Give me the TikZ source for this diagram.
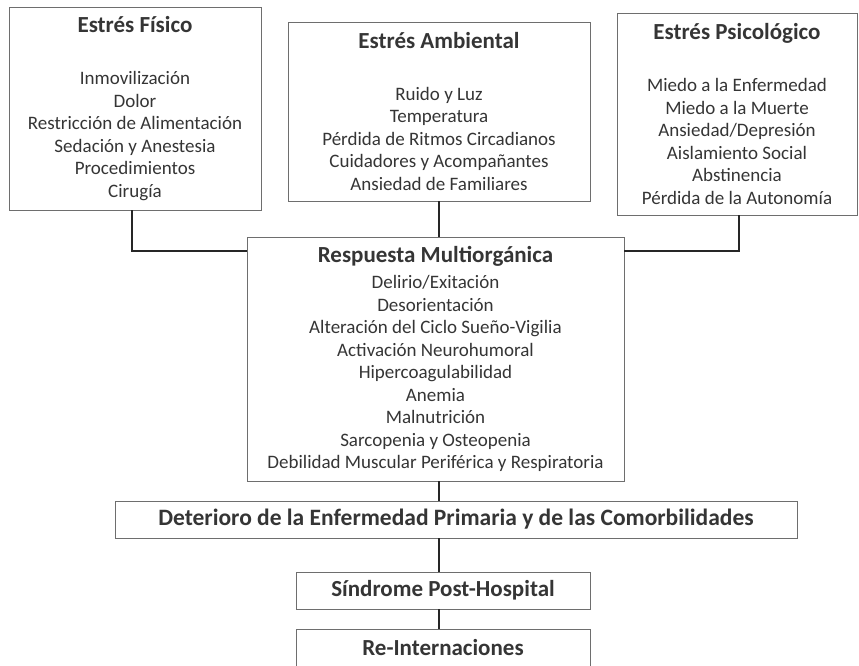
\documentclass[tikz,border=0pt]{standalone}
\usepackage{fontspec}
\setmainfont{Carlito}
\definecolor{boxgray}{HTML}{6E6E6E}
\definecolor{txt}{HTML}{353535}
\definecolor{linkc}{HTML}{262626}
\newcommand{\ttlfont}{\fontsize{23}{22.5}\selectfont\bfseries}
\begin{document}
\begin{tikzpicture}[x=1pt,y=-1pt,
  box/.style={draw=boxgray, line width=0.9pt, align=center, inner sep=0pt, text=txt,
    font=\fontsize{19}{22.5}\selectfont},
  link/.style={draw=linkc, line width=2.6pt}]
\useasboundingbox (0,0) rectangle (859,666);
\fill[white] (0,0) rectangle (859,666);

\node[box, minimum width=252pt, minimum height=203pt] (fis) at (135,108.5)
 {{\ttlfont Estrés Físico}\\[29.5pt]
  Inmovilización\\ Dolor\\ Restricción de Alimentación\\ Sedación y Anestesia\\ Procedimientos\\ Cirugía};

\node[box, minimum width=302pt, minimum height=179pt] (amb) at (439,111.5)
 {{\ttlfont Estrés Ambiental}\\[29.5pt]
  Ruido y Luz\\ Temperatura\\ Pérdida de Ritmos Circadianos\\ Cuidadores y Acompañantes\\ Ansiedad de Familiares};

\node[box, minimum width=240pt, minimum height=202pt] (psi) at (737,114)
 {{\ttlfont Estrés Psicológico}\\[29.5pt]
  Miedo a la Enfermedad\\ Miedo a la Muerte\\ Ansiedad/Depresión\\ Aislamiento Social\\ Abstinencia\\ Pérdida de la Autonomía};

\node[box, minimum width=377pt, minimum height=244pt] (res) at (435.5,359)
 {{\ttlfont Respuesta Multiorgánica}\\[3.5pt]
  Delirio/Exitación\\ Desorientación\\ Alteración del Ciclo Sueño-Vigilia\\ Activación Neurohumoral\\ Hipercoagulabilidad\\ Anemia\\ Malnutrición\\ Sarcopenia y Osteopenia\\ Debilidad Muscular Periférica y Respiratoria};

\node[box, minimum width=682pt, minimum height=37pt] (det) at (456,519.5)
 {{\fontsize{23.5}{22.5}\selectfont\bfseries Deterioro de la Enfermedad Primaria y de las Comorbilidades}};

\node[box, minimum width=294pt, minimum height=37pt] (sin) at (443,590.5)
 {{\ttlfont Síndrome Post-Hospital}};

\node[box, minimum width=294pt, minimum height=38pt] (rei) at (443,648)
 {{\ttlfont Re-Internaciones}};

\coordinate (fisc) at (132,251);
\coordinate (psic) at (739,251);
\coordinate (mid) at (439,0);

\draw[link] (fis.south -| fisc) -- (fisc) -- (fisc -| res.west);
\draw[link] (psi.south -| psic) -- (psic) -- (psic -| res.east);
\draw[link] (amb.south -| mid) -- (res.north -| mid);
\draw[link] (res.south -| mid) -- (det.north -| mid);
\draw[link] (det.south -| mid) -- (sin.north -| mid);
\draw[link] (sin.south -| mid) -- (rei.north -| mid);
\end{tikzpicture}
\end{document}
